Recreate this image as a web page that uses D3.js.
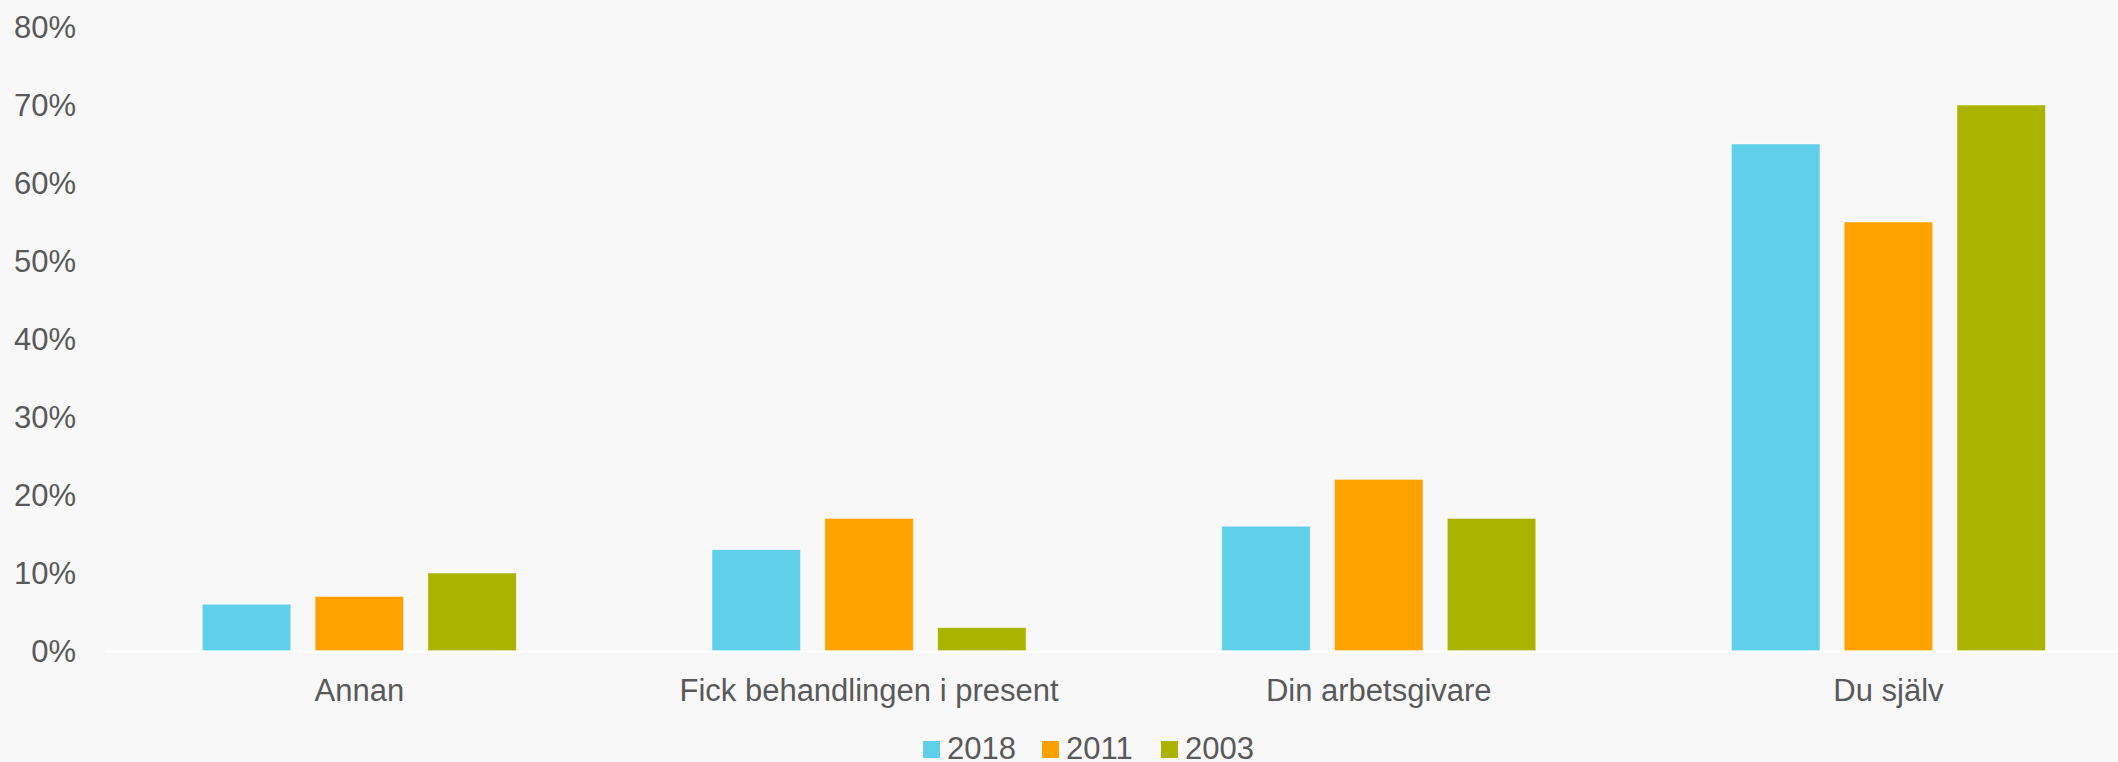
<!DOCTYPE html>
<html>
<head>
<meta charset="utf-8">
<script src="https://cdn.jsdelivr.net/npm/d3@7"></script>
<style>
  html, body { margin: 0; padding: 0; background: #f8f8f8; }
  svg { display: block; font-family: "Liberation Sans", Arial, sans-serif; }
</style>
</head>
<body>
<div id="chart"></div>
<script>
// data (percent)
const categories = ["Annan", "Fick behandlingen i present", "Din arbetsgivare", "Du själv"];
const series = ["2018", "2011", "2003"];
const values2018 = [6, 13, 16, 65];
const values2011 = [7, 17, 22, 55];
const values2003 = [10, 3, 17, 70];
const yTicks = [0, 10, 20, 30, 40, 50, 60, 70, 80];
const colors = ["#5fcfea", "#ffa200", "#aab400"];

const width = 2118, height = 762;

const svg = d3.select("#chart")
    .append("svg")
    .attr("width", width)
    .attr("height", height);

svg.append("rect").attr("width", width).attr("height", height).attr("fill", "#f8f8f8");

const table = categories.map((c, i) => ({
    cat: c,
    vals: [values2018[i], values2011[i], values2003[i]]
}));

// plot area (right part runs past the picture edge, as in the reference)
const x0 = d3.scaleBand()
    .domain(categories)
    .range([104.5, 2143.3])
    .padding(0);

const x1 = d3.scaleBand()
    .domain(series)
    .range([0, x0.bandwidth()])
    .paddingInner(0.215)
    .paddingOuter(0.867);

const y = d3.scaleLinear()
    .domain([0, 80])
    .range([651, 27]);

const color = d3.scaleOrdinal().domain(series).range(colors);

// y axis labels
svg.append("g")
    .selectAll("text")
    .data(yTicks)
    .join("text")
    .attr("x", 76)
    .attr("y", d => y(d))
    .attr("dy", "0.36em")
    .attr("text-anchor", "end")
    .attr("font-size", 31)
    .attr("fill", "#595959")
    .text(d => d + "%");

// bars
svg.append("g")
    .selectAll("g")
    .data(table)
    .join("g")
    .attr("transform", d => `translate(${x0(d.cat)},0)`)
    .selectAll("rect")
    .data(d => d.vals.map((v, i) => ({ key: series[i], value: v })))
    .join("rect")
    .attr("x", d => x1(d.key))
    .attr("y", d => y(d.value))
    .attr("width", x1.bandwidth())
    .attr("height", d => y(0) - y(d.value))
    .attr("fill", d => color(d.key))
    .attr("stroke", "#ffffff")
    .attr("stroke-opacity", 0.5)
    .attr("stroke-width", 1);

// baseline
svg.append("line")
    .attr("x1", 105)
    .attr("x2", width)
    .attr("y1", y(0) + 0.5)
    .attr("y2", y(0) + 0.5)
    .attr("stroke", "#ffffff")
    .attr("stroke-width", 2);

// category labels
svg.append("g")
    .selectAll("text")
    .data(categories)
    .join("text")
    .attr("x", d => x0(d) + x0.bandwidth() / 2)
    .attr("y", 701)
    .attr("text-anchor", "middle")
    .attr("font-size", 31)
    .attr("fill", "#595959")
    .text(d => d);

// legend
const legend = svg.append("g")
    .attr("transform", "translate(923,741)");

const item = legend.selectAll("g")
    .data(series)
    .join("g")
    .attr("transform", (d, i) => `translate(${i * 119},0)`);

item.append("rect")
    .attr("width", 17)
    .attr("height", 17)
    .attr("fill", d => color(d));

item.append("text")
    .attr("x", 24)
    .attr("y", 18)
    .attr("font-size", 31)
    .attr("fill", "#595959")
    .text(d => d);
</script>
</body>
</html>
